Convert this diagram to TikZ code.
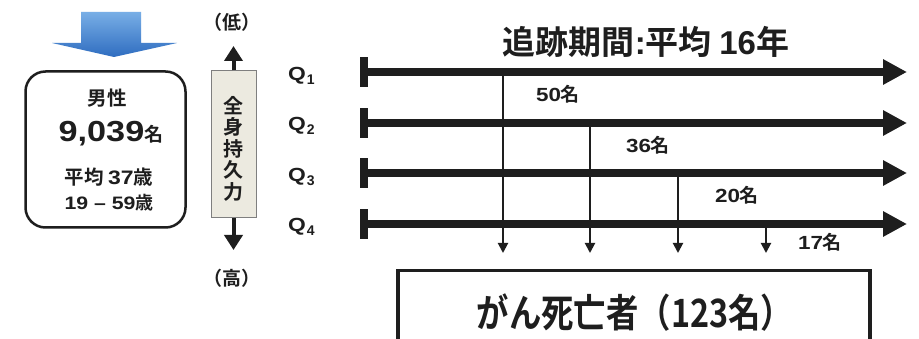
\documentclass[tikz,border=0pt]{standalone}
\usepackage{fontspec}
\setmainfont{Noto Sans CJK JP}[BoldFont={Noto Sans CJK JP Bold}]
\newfontfamily\latinb{Liberation Sans}[BoldFont={Liberation Sans Bold}]
\usetikzlibrary{arrows.meta,shadings}
\definecolor{ink}{HTML}{1E1E1E}
\definecolor{barfill}{HTML}{ECEAE0}
\definecolor{bargray}{HTML}{7F7F7F}
\definecolor{bluelight}{HTML}{78AEE6}
\definecolor{bluedark}{HTML}{2F6DC0}
\newcommand{\widedig}[1]{\scalebox{1.18}[1]{\latinb\bfseries #1}}
\newcommand{\qq}[1]{\scalebox{1.2}[1]{\latinb\bfseries Q}\kern1pt\raisebox{-4pt}{\latinb\bfseries\fontsize{14}{14}\selectfont #1}}
\tikzset{
  txt/.style={inner sep=0pt, text=ink, font=\bfseries},
  timeline/.style={draw=ink, line width=8pt, {Bar[width=30pt,line width=8pt]}-{Triangle[length=24pt,width=24pt]}},
  drop/.style={draw=ink, line width=2pt, -{Triangle[length=10pt,width=10pt]}},
  bigarrow/.style={draw=ink, line width=4pt, -{Triangle[length=15pt,width=18pt]}},
  qlab/.style={inner sep=0pt, text=ink, anchor=west, font=\latinb\bfseries\fontsize{19}{19}\selectfont},
  cnt/.style={txt, font=\bfseries\fontsize{19}{19}\selectfont},
}
\begin{document}
\begin{tikzpicture}[x=1pt,y=-1pt]
\clip (0,0) rectangle (919,339);
\fill[white] (0,0) rectangle (919,339);

% blue arrow
\shade[top color=bluelight, bottom color=bluedark]
  (81,12) -- (141,12) -- (141,43) -- (177,43) -- (114,57) -- (52,43) -- (81,43) -- cycle;

% cohort box
\node[draw=ink, line width=2.5pt, rounded corners=20pt, minimum width=160pt, minimum height=156pt, inner sep=0pt] (cohort) at (105.5,149.5) {};
\node[txt, font=\bfseries\fontsize{19.5}{19.5}\selectfont] (sex) at (107,98) {男性};
\node[txt] (num) at (111,134) {{\fontsize{29}{29}\selectfont\widedig{9,039}}{\fontsize{19}{19}\selectfont 名}};
\node[txt, font=\bfseries\fontsize{19.5}{19.5}\selectfont] (age) at (109,177) {平均 \widedig{37}歳};
\node[txt, font=\bfseries\fontsize{18}{18}\selectfont] (range) at (109,203) {\widedig{19 – 59}歳};

% fitness bar
\node[draw=bargray, fill=barfill, line width=1pt, minimum width=45pt, minimum height=147pt, inner sep=0pt] (fit) at (233.5,144.5) {};
\node[txt, font=\bfseries\fontsize{20}{21.5}\selectfont, align=center] (fitlab) at (233.5,148.5) {全\\身\\持\\久\\力};
\coordinate (uptip) at (233.5,46);
\coordinate (dntip) at (233.5,250);
\draw[bigarrow] (fit.north) -- (uptip);
\draw[bigarrow] (fit.south) -- (dntip);
\node[txt, font=\bfseries\fontsize{19}{19}\selectfont] (low) at (232,22) {（低）};
\node[txt, font=\bfseries\fontsize{19}{19}\selectfont] (high) at (232,278) {（高）};

% Q labels
\node[qlab] (q1) at (288,76) {\qq{1}};
\node[qlab] (q2) at (288,126) {\qq{2}};
\node[qlab] (q3) at (288,177) {\qq{3}};
\node[qlab] (q4) at (288,227) {\qq{4}};

% title
\node[txt, font=\bfseries\fontsize{33}{33}\selectfont] (title) at (646,42) {追跡期間{\latinb\bfseries :}平均 {\latinb\bfseries 16}年};

% timelines
\coordinate (s1) at (360,72);  \coordinate (e1) at (907,72);
\coordinate (s2) at (360,123); \coordinate (e2) at (907,123);
\coordinate (s3) at (360,173); \coordinate (e3) at (907,173);
\coordinate (s4) at (360,224); \coordinate (e4) at (907,224);
\draw[timeline] (s1) -- (e1);
\draw[timeline] (s2) -- (e2);
\draw[timeline] (s3) -- (e3);
\draw[timeline] (s4) -- (e4);

% drops
\coordinate (d1a) at (503,72);  \coordinate (d1b) at (503,253);
\coordinate (d2a) at (590,123); \coordinate (d2b) at (590,253);
\coordinate (d3a) at (678,173); \coordinate (d3b) at (678,253);
\coordinate (d4a) at (766,224); \coordinate (d4b) at (766,253);
\draw[drop] (d1a) -- (d1b);
\draw[drop] (d2a) -- (d2b);
\draw[drop] (d3a) -- (d3b);
\draw[drop] (d4a) -- (d4b);

\node[cnt] (c1) at (558,94) {\widedig{50}名};
\node[cnt] (c2) at (648,145) {\widedig{36}名};
\node[cnt] (c3) at (737,195) {\widedig{20}名};
\node[cnt] (c4) at (820,242) {\widedig{17}名};

% death box
\node[draw=ink, line width=3.5pt, minimum width=472pt, minimum height=110pt, inner sep=0pt, anchor=north] (deathbox) at (634,269) {};
\node[txt, font=\bfseries\fontsize{39}{39}\selectfont] (death) at (635,313) {\scalebox{0.83}[1]{がん死亡者（123名）}};
\end{tikzpicture}
\end{document}
